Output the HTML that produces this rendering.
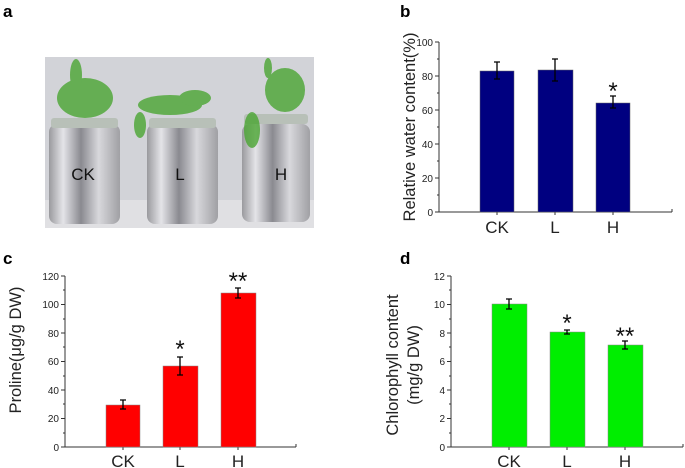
<!DOCTYPE html>
<html><head><meta charset="utf-8"><style>
html,body{margin:0;padding:0;background:#fff;}
svg{display:block;font-family:"Liberation Sans",Arial,sans-serif;}
</style></head><body>
<svg width="685" height="468" viewBox="0 0 685 468" xmlns="http://www.w3.org/2000/svg">
<defs>
<linearGradient id="foil" x1="0" x2="1" y1="0" y2="0">
<stop offset="0" stop-color="#9a9a9e"/><stop offset="0.2" stop-color="#e4e4e8"/><stop offset="0.45" stop-color="#8a8a90"/><stop offset="0.7" stop-color="#d8d8dc"/><stop offset="1" stop-color="#a0a0a4"/>
</linearGradient>
</defs>
<g font-weight="bold" font-size="17">
<text x="3" y="17">a</text><text x="400" y="17">b</text><text x="3" y="264">c</text><text x="400" y="264">d</text>
</g>
<rect x="45" y="57" width="269" height="171" fill="#d2d3d8"/>
<rect x="45" y="200" width="269" height="28" fill="#e0e0e3"/>
<g fill="url(#foil)">
<rect x="49" y="124" width="71" height="100" rx="8"/>
<rect x="147" y="124" width="71" height="100" rx="8"/>
<rect x="242" y="124" width="68" height="98" rx="8"/>
</g>
<g fill="#b8c0b8"><rect x="51" y="118" width="67" height="10" rx="3"/><rect x="149" y="118" width="67" height="10" rx="3"/><rect x="244" y="114" width="64" height="10" rx="3"/></g>
<g fill="#4aa532" opacity="0.8">
<ellipse cx="85" cy="98" rx="28" ry="20"/><ellipse cx="76" cy="75" rx="6" ry="16"/>
<ellipse cx="170" cy="105" rx="32" ry="10"/><ellipse cx="195" cy="98" rx="16" ry="8"/><ellipse cx="140" cy="125" rx="6" ry="13"/>
<ellipse cx="285" cy="90" rx="20" ry="22"/><ellipse cx="252" cy="130" rx="8" ry="18"/><ellipse cx="268" cy="68" rx="4" ry="10"/>
</g>
<g font-size="17" fill="#111" text-anchor="middle"><text x="83" y="180">CK</text><text x="180" y="180">L</text><text x="281" y="180">H</text></g>

<g font-size="10" fill="#222" stroke-width="1">
<g stroke="#333" fill="none"><line x1="439" y1="42" x2="439" y2="212"/><line x1="439" y1="212" x2="672" y2="212"/><line x1="672" y1="212" x2="672" y2="209"/>
<path d="M439 42h-4M439 76h-4M439 110h-4M439 144h-4M439 178h-4M439 212h-4M439 59h-2M439 93h-2M439 127h-2M439 161h-2M439 195h-2M497 212v3M555 212v3M613 212v3"/></g>
<g text-anchor="end"><text x="433" y="46">100</text><text x="433" y="80">80</text><text x="433" y="114">60</text><text x="433" y="148">40</text><text x="433" y="182">20</text><text x="433" y="216">0</text></g>
<g fill="#000080" stroke="#666" stroke-width="0.5"><rect x="480" y="71" width="34" height="141"/><rect x="538" y="70" width="35" height="142"/><rect x="596" y="103" width="34" height="109"/></g>
<g stroke="#000" stroke-width="1.3"><path d="M497 62v17M494 62h6M494 79h6M555 59v22M552 59h6M552 81h6M613 96v12M610 96h6M610 108h6"/></g>
<g font-size="24" fill="#111" text-anchor="middle"><text x="613" y="99">*</text>
<text x="180" y="357">*</text><text x="238" y="289">**</text>
<text x="567" y="331">*</text><text x="625" y="344">**</text></g>
<g font-size="17" text-anchor="middle"><text x="497" y="233">CK</text><text x="555" y="233">L</text><text x="613" y="233">H</text></g>
<text transform="translate(415,127) rotate(-90)" font-size="16.5" text-anchor="middle">Relative water content(%)</text>

<g stroke="#333" fill="none"><line x1="65" y1="276" x2="65" y2="447"/><line x1="65" y1="447" x2="296" y2="447"/><line x1="296" y1="447" x2="296" y2="444"/>
<path d="M65 276h-4M65 304.5h-4M65 333h-4M65 361.5h-4M65 390h-4M65 418.5h-4M65 447h-4M65 290h-2M65 319h-2M65 347h-2M65 376h-2M65 404h-2M65 433h-2M123 447v3M180 447v3M238 447v3"/></g>
<g text-anchor="end"><text x="59" y="280">120</text><text x="59" y="308">100</text><text x="59" y="337">80</text><text x="59" y="365">60</text><text x="59" y="394">40</text><text x="59" y="422">20</text><text x="59" y="451">0</text></g>
<g fill="#ff0000" stroke="#888" stroke-width="0.5"><rect x="106" y="405" width="34" height="42"/><rect x="163" y="366" width="35" height="81"/><rect x="221" y="293" width="35" height="154"/></g>
<g stroke="#000" stroke-width="1.3"><path d="M123 400v9M120 400h6M120 409h6M180 357v18M177 357h6M177 375h6M238 288v10M235 288h6M235 298h6"/></g>
<g font-size="17" text-anchor="middle"><text x="123" y="467">CK</text><text x="180" y="467">L</text><text x="238" y="467">H</text></g>
<text transform="translate(21,350) rotate(-90)" font-size="16.5" text-anchor="middle">Proline(μg/g DW)</text>

<g stroke="#333" fill="none"><line x1="451" y1="276" x2="451" y2="447"/><line x1="451" y1="447" x2="683" y2="447"/><line x1="683" y1="447" x2="683" y2="444"/>
<path d="M451 276h-4M451 304.5h-4M451 333h-4M451 361.5h-4M451 390h-4M451 418.5h-4M451 447h-4M451 290h-2M451 319h-2M451 347h-2M451 376h-2M451 404h-2M451 433h-2M509 447v3M567 447v3M625 447v3"/></g>
<g text-anchor="end"><text x="445" y="280">12</text><text x="445" y="308">10</text><text x="445" y="337">8</text><text x="445" y="365">6</text><text x="445" y="394">4</text><text x="445" y="422">2</text><text x="445" y="451">0</text></g>
<g fill="#00ee00" stroke="#888" stroke-width="0.5"><rect x="492" y="304" width="35" height="143"/><rect x="550" y="332" width="35" height="115"/><rect x="608" y="345" width="35" height="102"/></g>
<g stroke="#000" stroke-width="1.3"><path d="M509 299v10M506 299h6M506 309h6M567 330v4M564 330h6M564 334h6M625 341v8M622 341h6M622 349h6"/></g>
<g font-size="17" text-anchor="middle"><text x="509" y="467">CK</text><text x="567" y="467">L</text><text x="625" y="467">H</text></g>
<text transform="translate(398,365) rotate(-90)" font-size="16.5" text-anchor="middle">Chlorophyll content</text>
<text transform="translate(419,365) rotate(-90)" font-size="16.5" text-anchor="middle">(mg/g DW)</text>
</g>
</svg>
</body></html>
